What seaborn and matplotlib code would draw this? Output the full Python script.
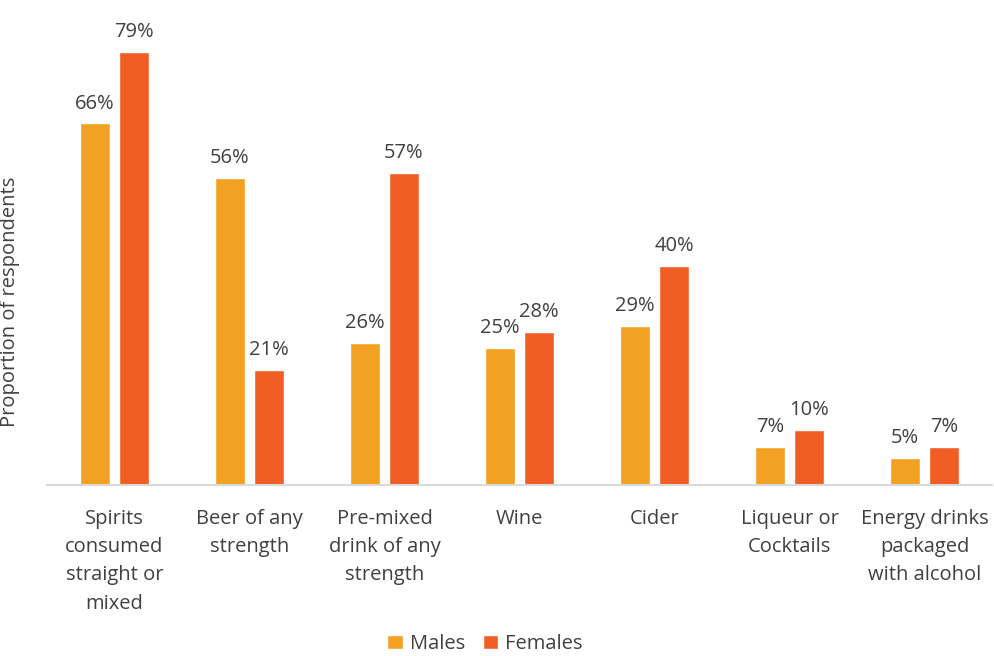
import matplotlib
matplotlib.use('Agg')
import matplotlib.pyplot as plt
import seaborn as sns
import pandas as pd

categories = ['Spirits\nconsumed\nstraight or\nmixed', 'Beer of any\nstrength',
              'Pre-mixed\ndrink of any\nstrength', 'Wine', 'Cider',
              'Liqueur or\nCocktails', 'Energy drinks\npackaged\nwith alcohol']
males = [66, 56, 26, 25, 29, 7, 5]
females = [79, 21, 57, 28, 40, 10, 7]
series = ['Males', 'Females']
colors = ['#F2A122', '#F15E25']

df = pd.DataFrame({
    'category': categories * 2,
    'value': males + females,
    'sex': ['Males'] * len(categories) + ['Females'] * len(categories),
})

sns.set_style('white')
plt.rcParams['font.family'] = ['Open Sans', 'DejaVu Sans']
text_color = '#404040'
fs = 14.5

fig = plt.figure(figsize=(9.95, 6.56), dpi=100)
ax = fig.add_axes([47 / 995, (656 - 485) / 656, 945 / 995, 485 / 656])

sns.barplot(data=df, x='category', y='value', hue='sex', hue_order=series,
            palette=colors, saturation=1, width=0.578, gap=0.23, ax=ax, legend=True)

for cont in ax.containers:
    ax.bar_label(cont, labels=[f'{v:.0f}%' for v in cont.datavalues],
                 padding=7, fontsize=fs, color=text_color)

ax.set_ylim(0, 88.5)
ax.set_xlim(-0.5, len(categories) - 0.5)
ax.set_yticks([])
ax.set_xlabel('')
ax.set_ylabel('Proportion of respondents', fontsize=fs, color=text_color)
ax.yaxis.set_label_coords(-0.029, 0.377)
ax.tick_params(axis='x', length=0, pad=17, labelsize=fs, labelcolor=text_color)
for lab in ax.get_xticklabels():
    lab.set_verticalalignment('top')
    lab.set_linespacing(1.56)

for s in ['top', 'right', 'left']:
    ax.spines[s].set_visible(False)
ax.spines['bottom'].set_color('#D9D9D9')
ax.spines['bottom'].set_linewidth(1.5)

handles, labels = ax.get_legend_handles_labels()
ax.legend_.remove()
fig.legend(handles, labels, loc='center', bbox_to_anchor=(485 / 995, 1 - 644 / 656),
           ncol=2, frameon=False, fontsize=fs, handlelength=0.75, handleheight=0.75,
           handletextpad=0.35, columnspacing=0.9, labelcolor=text_color,
           borderpad=0.2)

fig.savefig('out.png', dpi=100)
